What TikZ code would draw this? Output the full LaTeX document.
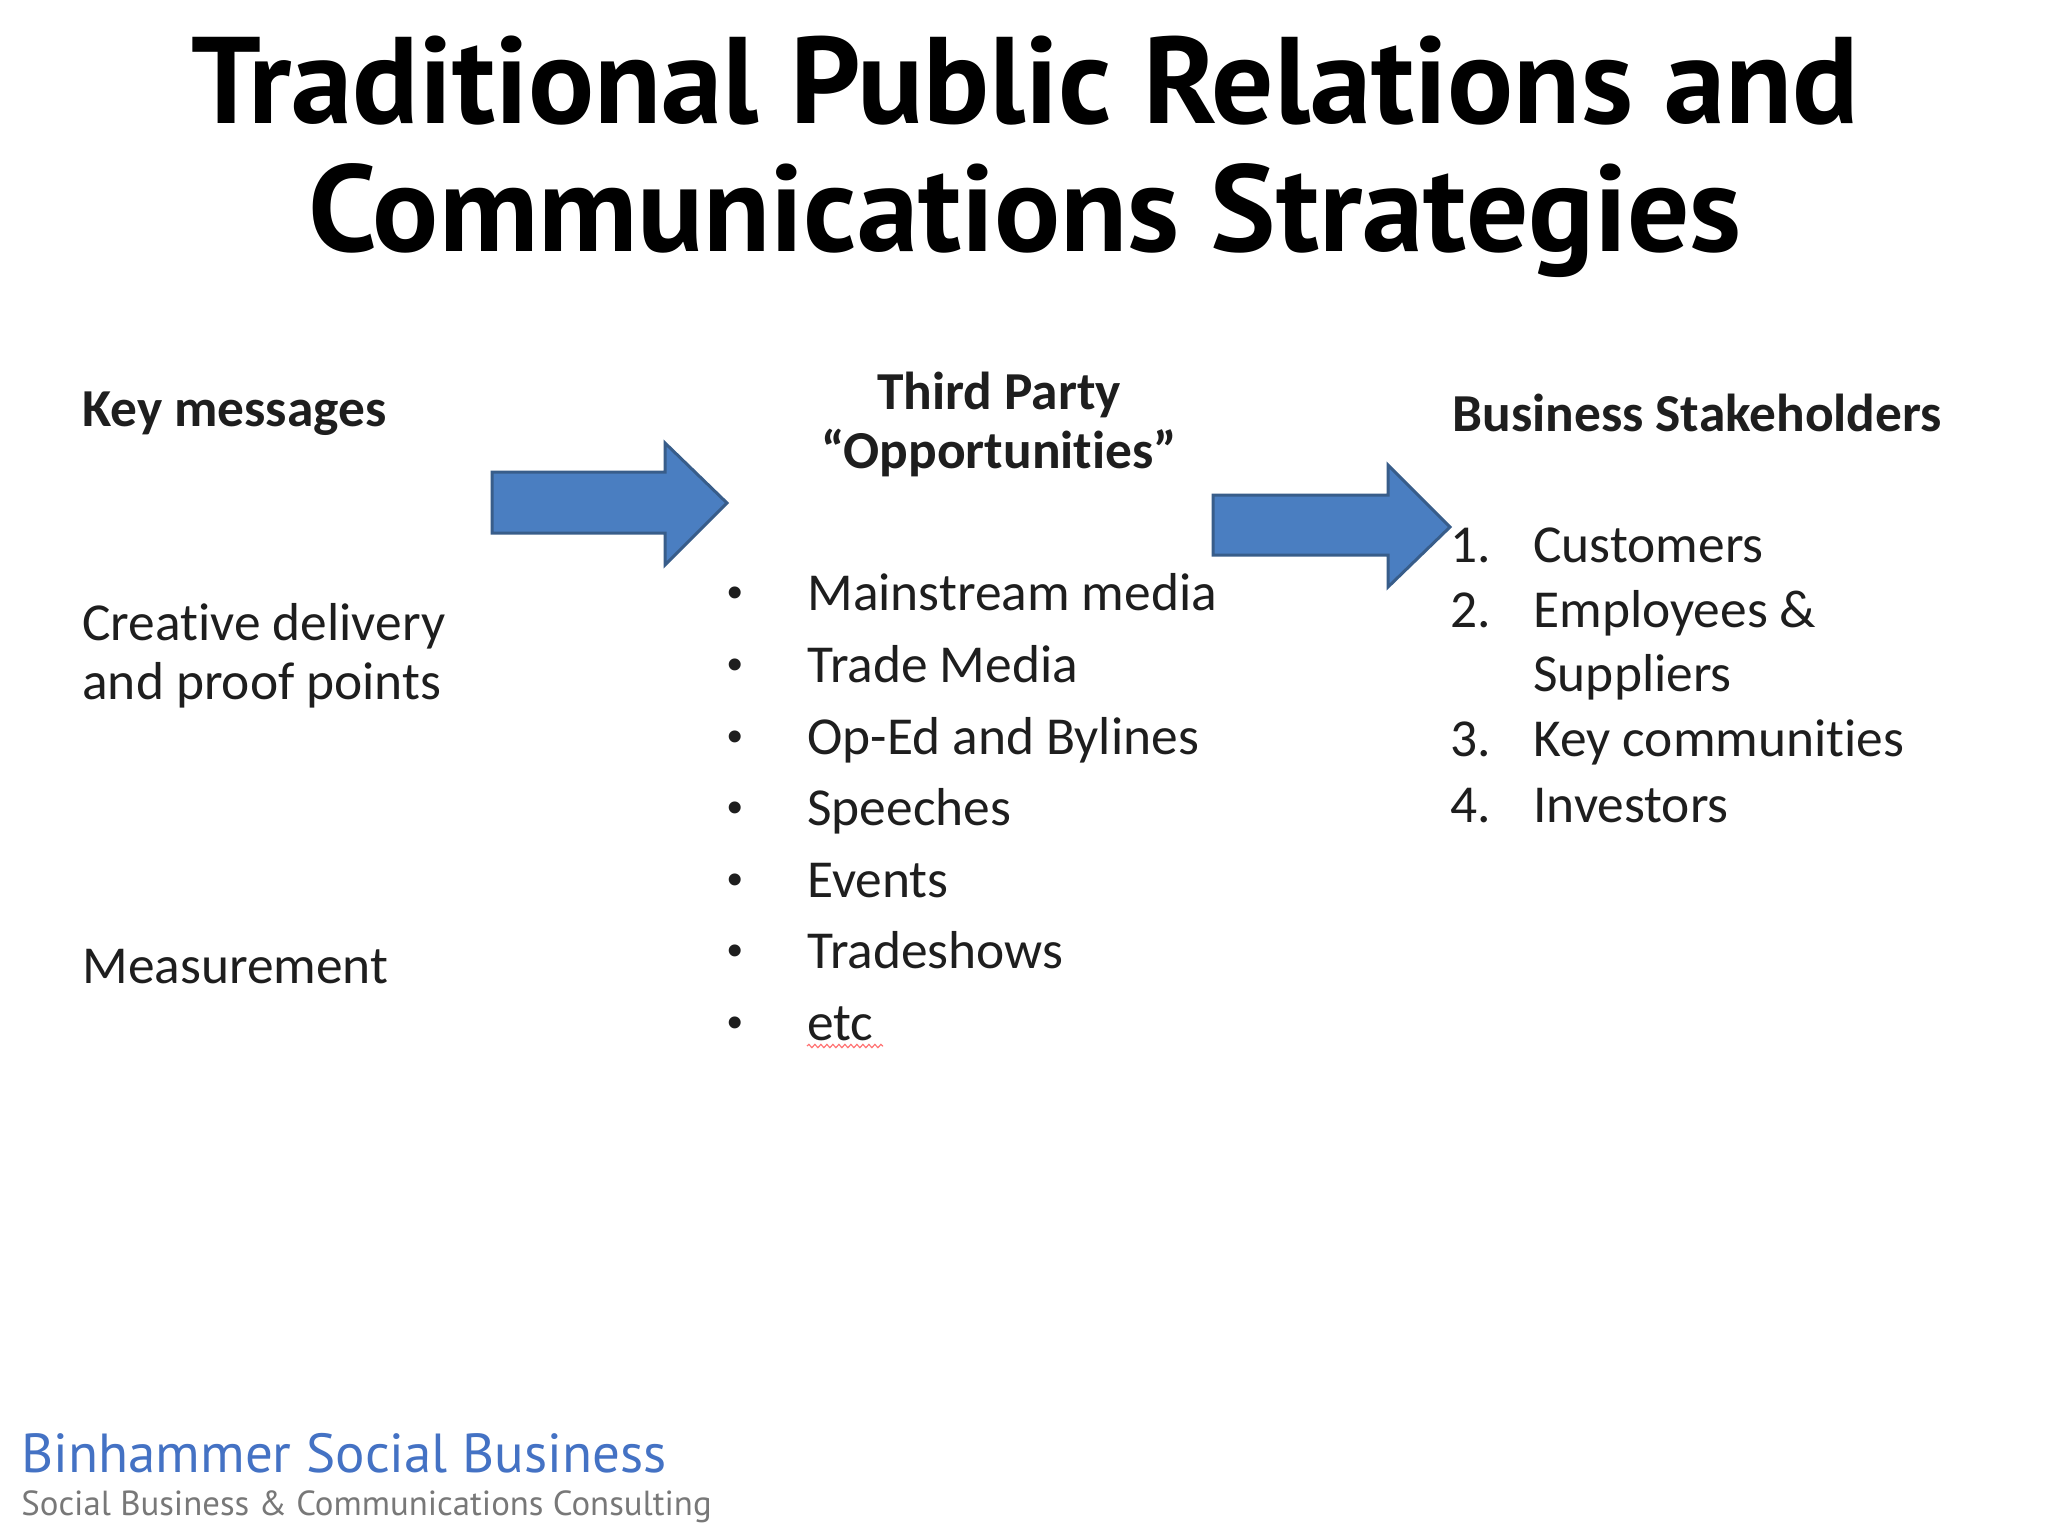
\documentclass[tikz,border=0pt]{standalone}
\usepackage{fontspec}
\setmainfont{Carlito}[Ligatures=NoCommon]
\newfontfamily\titlefont{PT Sans}
\newfontfamily\footfont{PT Sans}
\newfontfamily\bulletfont{Liberation Sans}
\usetikzlibrary{decorations.pathmorphing}
\definecolor{arrowfill}{RGB}{74,126,193}
\definecolor{arrowedge}{RGB}{56,93,138}
\definecolor{footblue}{RGB}{68,114,196}
\definecolor{footgray}{RGB}{120,120,120}
\definecolor{bodytext}{RGB}{30,30,30}
\tikzset{
  titletext/.style={inner sep=0pt, anchor=base, font=\titlefont\bfseries\fontsize{61.6pt}{61.6pt}\selectfont},
  bodyleft/.style={inner sep=0pt, anchor=base west, text=bodytext, font=\fontsize{26.7pt}{26.7pt}\selectfont},
  bulletmark/.style={inner sep=0pt, anchor=base west, text=bodytext, font=\bulletfont\fontsize{22pt}{22pt}\selectfont},
  headleft/.style={bodyleft, font=\bfseries\fontsize{26.7pt}{26.7pt}\selectfont},
  headmid/.style={inner sep=0pt, anchor=base, text=bodytext, font=\bfseries\fontsize{26.7pt}{26.7pt}\selectfont},
  blockarrow/.style={fill=arrowfill, draw=arrowedge, line width=1.5pt, line join=miter},
  foottitle/.style={inner sep=0pt, anchor=base west, text=footblue, font=\footfont\fontsize{27.5pt}{27.5pt}\selectfont},
  footsub/.style={inner sep=0pt, anchor=base west, text=footgray, font=\footfont\fontsize{17.4pt}{17.4pt}\selectfont},
  squiggle/.style={draw=red!55!white, line width=0.6pt, decorate, decoration={snake, amplitude=0.8pt, segment length=3pt}}
}
\begin{document}
\begin{tikzpicture}[x=0.5pt,y=-0.5pt]
\useasboundingbox[fill=white] (0,0) rectangle (2048,1536);

% title
\node[titletext] (title1) at (1025,124) {Traditional Public Relations and};
\node[titletext] (title2) at (1025,251) {Communications Strategies};

% left column
\node[headleft] (key) at (82,426) {Key messages};
\node[bodyleft] (creative1) at (82,640) {Creative delivery};
\node[bodyleft] (creative2) at (82,699) {and proof points};
\node[bodyleft] (measure) at (82,983) {Measurement};

% block arrows
\draw[blockarrow] (492,472) -- (665,472) -- (665,443) -- (727,503) -- (665,565) -- (665,533) -- (492,533) -- cycle;
\draw[blockarrow] (1213,495) -- (1388,495) -- (1388,465) -- (1450,527) -- (1388,587) -- (1388,555) -- (1213,555) -- cycle;

% middle column
\node[headmid] (third1) at (999,409) {Third Party};
\node[headmid] (third2) at (999,468) {“Opportunities”};
\foreach \y/\t/\n in {610/Mainstream media/m1, 682/Trade Media/m2, 754/Op-Ed and Bylines/m3, 825/Speeches/m4, 897/Events/m5, 968/Tradeshows/m6, 1040/etc/m7}{
  \node[bulletmark] (b\n) at (727,\y-3) {•};
  \node[bodyleft] (\n) at (807,\y) {\t};
}
\draw[squiggle] (m7.base west) ++(0,6) coordinate (sqa) -- ++(76,0) coordinate (sqb);

% right column
\node[headleft] (stake) at (1452,431) {Business Stakeholders};
\node[bodyleft] (n1) at (1450,562) {1.};
\node[bodyleft] (s1) at (1533,562) {Customers};
\node[bodyleft] (n2) at (1450,627) {2.};
\node[bodyleft] (s2) at (1533,627) {Employees \&};
\node[bodyleft] (s2b) at (1533,691) {Suppliers};
\node[bodyleft] (n3) at (1450,756) {3.};
\node[bodyleft] (s3) at (1533,756) {Key communities};
\node[bodyleft] (n4) at (1450,822) {4.};
\node[bodyleft] (s4) at (1533,822) {Investors};

% footer
\node[foottitle] (foot1) at (21,1472) {Binhammer Social Business};
\node[footsub] (foot2) at (21,1515) {Social Business \& Communications Consulting};
\end{tikzpicture}
\end{document}
